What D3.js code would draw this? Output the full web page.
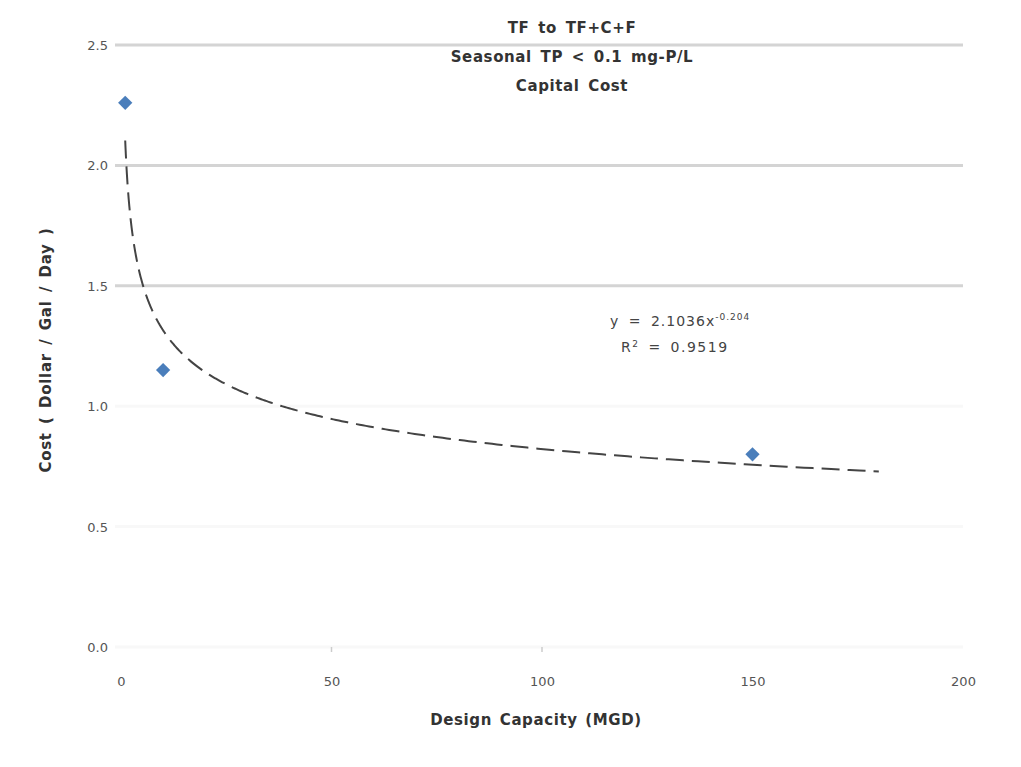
<!DOCTYPE html>
<html><head><meta charset="utf-8">
<script src="https://cdn.jsdelivr.net/npm/d3@7/dist/d3.min.js"></script>
<style>body{margin:0;background:#fff;} svg{display:block;}</style>
</head><body>
<svg id="chart" width="1021" height="767"></svg>
<script>
const xValues = [1, 10, 150];
const yValues = [2.26, 1.15, 0.80];
const xTicks = [0, 50, 100, 150, 200];
const yTicks = [0, 0.5, 1.0, 1.5, 2.0, 2.5];
const visibleGrid = [1.5, 2.0, 2.5];
const trendCoef = [2.1036];
const trendExp = [-0.204];
const trendRange = [1, 180];
const titleLines = ["TF to TF+C+F", "Seasonal TP < 0.1 mg-P/L", "Capital Cost"];
const xLabel = "Design Capacity (MGD)";
const yLabel = "Cost  ( Dollar / Gal / Day )";

const svg = d3.select("#chart");
const font = "'DejaVu Sans', 'Liberation Sans', sans-serif";
const x = d3.scaleLinear().domain([0, 200]).range([121, 963]);
const y = d3.scaleLinear().domain([0, 2.5]).range([647, 45]);

// gridlines
svg.append("g").selectAll("line").data(yTicks).join("line")
  .attr("x1", 115).attr("x2", 963)
  .attr("y1", d => y(d)).attr("y2", d => y(d))
  .attr("stroke", d => visibleGrid.includes(d) ? "#d4d4d4" : "#f8f8f8")
  .attr("stroke-width", 3);

// y axis labels
const yAxis = d3.axisLeft(y).tickValues(yTicks).tickFormat(d3.format(".1f")).tickSize(0).tickPadding(0);
const gy = svg.append("g").attr("transform", "translate(108,0)").call(yAxis);
gy.select(".domain").remove();
gy.selectAll("text").attr("font-family", font).attr("font-size", 13).attr("fill", "#555").attr("dy", "0.35em");

// x axis labels
const xAxis = d3.axisBottom(x).tickValues(xTicks).tickFormat(d3.format("d")).tickSize(0).tickPadding(0);
const gx = svg.append("g").attr("transform", "translate(0,677)").call(xAxis);
gx.select(".domain").remove();
gx.selectAll("text").attr("font-family", font).attr("font-size", 13).attr("fill", "#555").attr("dy", "0.71em");

// faint tick marks
svg.append("g").selectAll("line").data(xTicks.slice(1, 3)).join("line")
  .attr("x1", d => x(d)).attr("x2", d => x(d)).attr("y1", 647).attr("y2", 652)
  .attr("stroke", "#ccc").attr("stroke-width", 1.5);

// trendline
const trendPts = d3.range(0, 401).map(i => {
  const xv = trendRange[0] * Math.pow(trendRange[1] / trendRange[0], i / 400);
  return [xv, trendCoef[0] * Math.pow(xv, trendExp[0])];
});
svg.append("path").datum(trendPts)
  .attr("d", d3.line().x(d => x(d[0])).y(d => y(d[1])))
  .attr("fill", "none").attr("stroke", "#444").attr("stroke-width", 2)
  .attr("stroke-dasharray", "18,8");

// points
const pts = xValues.map((v, i) => [v, yValues[i]]);
svg.append("g").selectAll("path").data(pts).join("path")
  .attr("transform", d => `translate(${x(d[0])},${y(d[1])})`)
  .attr("d", d3.symbol(d3.symbolDiamond2, 130)())
  .attr("fill", "#4a7ebb");

// title
svg.append("g").selectAll("text").data(titleLines).join("text")
  .attr("x", 572).attr("y", (d, i) => 33 + i * 29)
  .attr("text-anchor", "middle").attr("font-family", font)
  .attr("font-size", 15).attr("font-weight", "bold").attr("fill", "#333")
  .attr("letter-spacing", 0.6).attr("word-spacing", 3)
  .text(d => d);

// equation
const eq = svg.append("text").attr("x", 610).attr("y", 326)
  .attr("font-family", font).attr("font-size", 14).attr("fill", "#444")
  .attr("letter-spacing", 1).attr("word-spacing", 4);
eq.append("tspan").text("y = 2.1036x");
eq.append("tspan").attr("dy", -6).attr("font-size", 9).text("-0.204");
const r2 = svg.append("text").attr("x", 621).attr("y", 352)
  .attr("font-family", font).attr("font-size", 14).attr("fill", "#444")
  .attr("letter-spacing", 1.5).attr("word-spacing", 3);
r2.append("tspan").text("R");
r2.append("tspan").attr("dy", -5).attr("font-size", 9).text("2");
r2.append("tspan").attr("dy", 5).text(" = 0.9519");

// axis titles
svg.append("text").attr("x", 536).attr("y", 725).attr("text-anchor", "middle")
  .attr("font-family", font).attr("font-size", 15).attr("font-weight", "bold").attr("fill", "#333")
  .attr("letter-spacing", 0.6).attr("word-spacing", 2)
  .text(xLabel);
svg.append("text").attr("transform", "translate(51,350) rotate(-90)").attr("text-anchor", "middle")
  .attr("font-family", font).attr("font-size", 15).attr("font-weight", "bold").attr("fill", "#333")
  .attr("letter-spacing", 0.7).attr("word-spacing", 2.5)
  .text(yLabel);
</script>
</body></html>
